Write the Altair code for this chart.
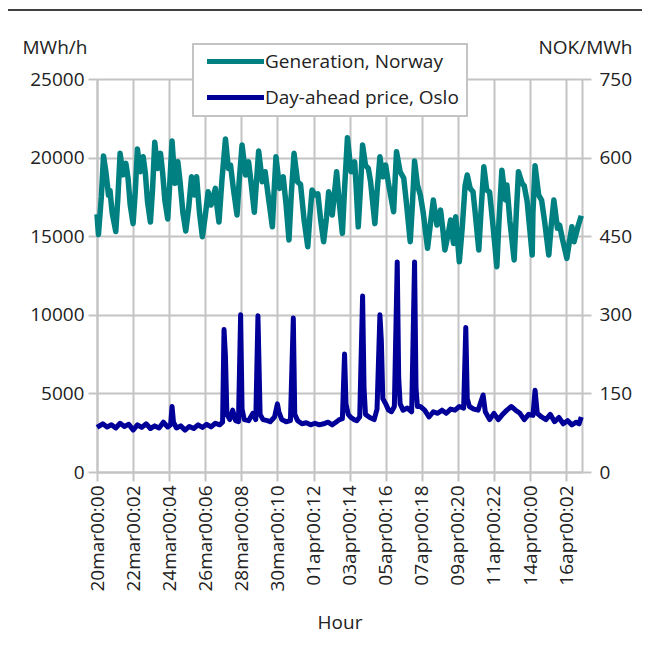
import altair as alt
import pandas as pd

# ---- data (hour index from 20 Mar 00:00) ----
gen_hours = [0, 2, 6, 9, 12, 16, 18, 21, 26, 29, 32, 36, 40, 43, 46, 50, 53, 56, 60, 64, 67, 70, 74, 77, 80,
             84, 88, 91, 94, 98, 101, 104, 108, 112, 115, 119, 123, 127, 131, 135, 138, 142, 146, 150, 154,
             158, 164, 166, 169, 173, 178, 182, 185, 189, 194, 197, 201, 206, 210, 213, 218, 221, 224, 229,
             233, 236, 243, 245, 248, 253, 258, 262, 266, 269, 273, 278, 282, 287, 292, 295, 298, 302, 306,
             310, 314, 318, 321, 326, 332, 336, 340, 343, 347, 352, 357, 359, 362, 365, 368, 372, 376, 379,
             385, 388, 392, 396, 400, 404, 411, 413, 415, 420, 425, 429, 434, 437, 440, 444, 448, 452, 458,
             462, 466, 471, 476, 479, 482, 486, 490, 494, 497, 502, 506, 510, 513, 517, 521, 524, 529, 532,
             536, 540, 544, 548, 554, 557, 561, 566, 568, 572, 578, 581, 584, 589, 592, 596, 603, 604, 607,
             612, 616, 620, 626, 629, 633, 638, 641, 645, 651, 654, 658, 661, 667, 671]
gen_values = [16400, 15100, 17500, 20100, 19200, 17600, 17900, 16500, 15300, 17500, 20270, 18900, 19630, 18700,
              17000, 15800, 17800, 20540, 19100, 20050, 19000, 17200, 15900, 18000, 20970, 19300, 20270, 19000,
              17300, 16100, 18500, 21050, 18360, 19730, 18500, 16500, 15330, 16800, 18780, 17620, 18780, 16500,
              14970, 16300, 17830, 16980, 18040, 17000, 15900, 18500, 21180, 19300, 19520, 18000, 16350, 18500,
              20800, 18890, 19730, 18600, 16520, 18500, 20420, 18460, 19100, 18000, 15600, 17500, 20050, 18040,
              18780, 17000, 14760, 17500, 20270, 18460, 18300, 16000, 14330, 16300, 17940, 17620, 17700, 16000,
              14650, 16200, 17830, 16350, 19100, 17000, 15180, 18000, 21260, 19100, 19730, 18200, 15600, 18000,
              20800, 19520, 19300, 18500, 15800, 17800, 20050, 18780, 19520, 18300, 16560, 18500, 20370, 19100,
              18700, 17000, 14650, 17000, 19780, 18250, 17620, 16500, 14230, 15800, 17300, 15710, 16660, 15500,
              14120, 15000, 16030, 14540, 16240, 13380, 15500, 18200, 18890, 18040, 17830, 16500, 14120, 16500,
              19420, 17940, 17800, 16000, 13060, 16000, 19200, 17300, 18250, 16000, 13490, 16500, 19100, 18360,
              18200, 17200, 13800, 16500, 19480, 17620, 17300, 16000, 13800, 15500, 17300, 15500, 15700, 14800,
              13590, 14500, 15600, 14650, 15710, 16300]

price_hours = [0, 8, 14, 20, 26, 32, 38, 44, 50, 56, 62, 68, 74, 80, 86, 92, 98, 102, 104, 106, 110, 116, 122,
               128, 134, 140, 146, 152, 158, 164, 170, 174, 176, 178, 180, 184, 188, 192, 196, 199, 201, 204,
               210, 216, 220, 223, 226, 230, 236, 240, 246, 250, 252, 256, 262, 268, 272, 274, 278, 284, 290,
               296, 302, 308, 314, 320, 326, 332, 336, 340, 343, 345, 348, 352, 356, 360, 364, 368, 370, 372,
               378, 384, 388, 392, 394, 396, 400, 404, 408, 412, 416, 418, 420, 424, 430, 436, 440, 442, 444,
               448, 454, 460, 466, 472, 478, 484, 490, 496, 502, 508, 511, 513, 516, 522, 528, 535, 538, 544,
               550, 556, 562, 568, 574, 580, 586, 592, 598, 604, 607, 610, 616, 622, 628, 634, 640, 646, 652,
               658, 664, 668, 671]
price_values = [85, 92, 86, 90, 84, 93, 87, 91, 80, 90, 85, 92, 83, 88, 84, 95, 86, 90, 125, 95, 84, 88, 80,
                87, 83, 90, 85, 91, 86, 93, 90, 95, 272, 220, 110, 100, 118, 98, 96, 300, 120, 100,
                98, 112, 100, 298, 110, 100, 98, 96, 105, 130, 115, 100, 96, 98, 294, 110, 98, 92, 94,
                90, 93, 90, 92, 95, 90, 96, 100, 102, 225, 130, 110, 104, 100, 98, 105, 336, 160, 110,
                104, 100, 120, 300, 250, 140, 130, 118, 115, 125, 401, 180, 130, 118, 122, 115, 401, 160, 125,
                125, 118, 105, 115, 112, 118, 112, 120, 118, 125, 122, 276, 140, 125, 120, 118, 147, 115, 100,
                112, 100, 110, 118, 125, 118, 112, 100, 110, 108, 156, 112, 105, 100, 110, 96, 104, 92, 98,
                90, 95, 92, 105]

tick_hours = list(range(0, 651, 50))
tick_labels = ["20mar00:00", "22mar00:02", "24mar00:04", "26mar00:06", "28mar00:08", "30mar00:10",
               "01apr00:12", "03apr00:14", "05apr00:16", "07apr00:18", "09apr00:20", "11apr00:22",
               "14apr00:00", "16apr00:02"]

series_names = ["Generation, Norway", "Day-ahead price, Oslo"]
series_colors = ["#008080", "#000099"]

gen_df = pd.DataFrame({"hour": gen_hours, "gen": gen_values, "series": series_names[0]})
price_df = pd.DataFrame({"hour": price_hours, "price": price_values, "series": series_names[1]})

FONT = "Open Sans"
GRID = "#c4c4c4"
label_expr = "[" + ",".join("'%s'" % s for s in tick_labels) + "][round(datum.value/50)]"

x_enc = alt.X("hour:Q", scale=alt.Scale(domain=[0, 672], nice=False, zero=False),
              axis=alt.Axis(values=tick_hours, labelExpr=label_expr, labelAngle=-90, title="Hour",
                            grid=True, labelPadding=4, titlePadding=22))

color_enc = alt.Color("series:N",
                      scale=alt.Scale(domain=series_names, range=series_colors),
                      legend=alt.Legend(title=None, orient="none", legendX=96, legendY=-35,
                                        symbolType="M-5.7,0H5.7", symbolSize=100, symbolStrokeWidth=5,
                                        symbolOffset=25,
                                        labelFont=FONT, labelFontSize=19, labelColor="#222",
                                        labelOffset=20, labelLimit=0, fillColor="white", strokeColor=GRID,
                                        padding=8, rowPadding=15))

gen_line = alt.Chart(gen_df).mark_line(strokeWidth=5.5, strokeJoin="round").encode(
    x=x_enc,
    y=alt.Y("gen:Q", scale=alt.Scale(domain=[0, 25000], nice=False),
            axis=alt.Axis(values=[0, 5000, 10000, 15000, 20000, 25000], format="d", title="MWh/h",
                          titleAngle=0, titleX=-75, titleY=-26, titleAlign="left",
                          titleBaseline="alphabetic", grid=True, labelPadding=4)),
    color=color_enc,
)

price_line = alt.Chart(price_df).mark_line(strokeWidth=5, strokeJoin="round").encode(
    x=x_enc,
    y=alt.Y("price:Q", scale=alt.Scale(domain=[0, 750], nice=False),
            axis=alt.Axis(orient="right", values=[0, 150, 300, 450, 600, 750], format="d",
                          title="NOK/MWh", titleAngle=0, titleX=50, titleY=-26, titleAlign="right",
                          titleBaseline="alphabetic", grid=False, labelPadding=8)),
    color=color_enc,
)

top_rule = alt.Chart(pd.DataFrame({"k": [0]})).mark_rule(color="black", strokeWidth=1.5).encode(
    x=alt.value(-89), x2=alt.value(545), y=alt.value(-69)
)

chart = alt.layer(gen_line, price_line, top_rule).resolve_scale(y="independent").properties(
    width=485, height=393,
    autosize=alt.AutoSizeParams(type="none"),
    padding={"left": 89, "top": 71, "right": 60, "bottom": 170},
).configure_axis(
    labelFont=FONT, labelFontSize=19, labelColor="#222",
    titleFont=FONT, titleFontSize=19, titleFontWeight="normal", titleColor="#222",
    gridColor=GRID, gridWidth=2, gridOpacity=1,
    tickColor=GRID, tickWidth=2, tickSize=9,
    domainColor=GRID, domainWidth=2,
).configure_legend(strokeWidth=2).configure_view(stroke=None)

chart.save("out.html", embed_options={"renderer": "svg", "actions": False})
